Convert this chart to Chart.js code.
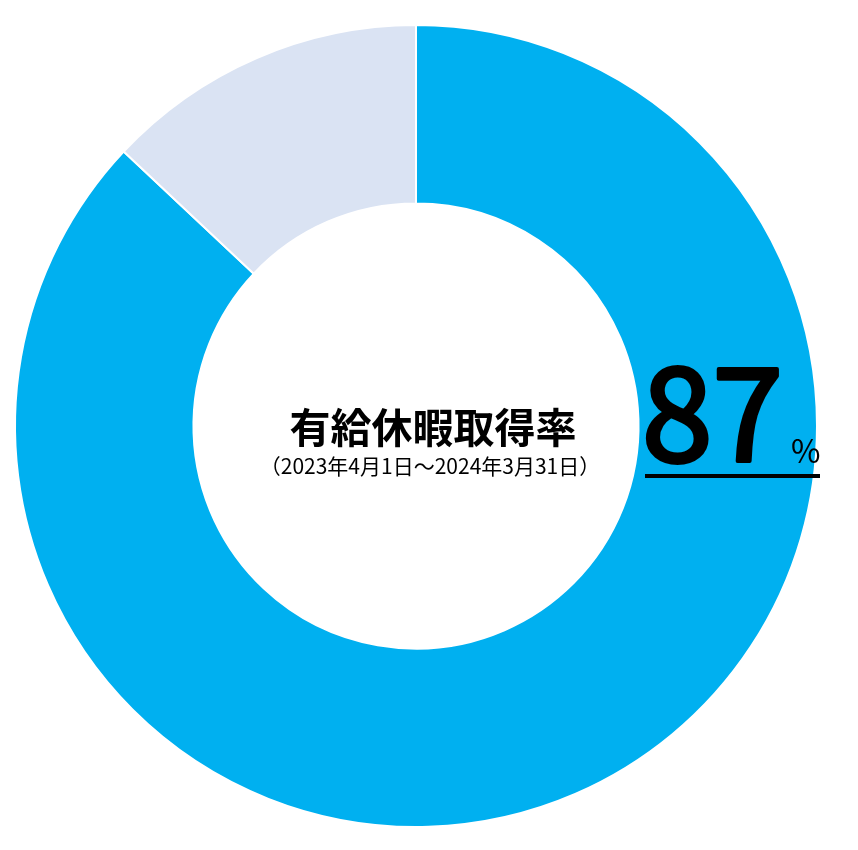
<!DOCTYPE html>
<html lang="ja">
<head>
<meta charset="utf-8">
<script src="https://cdn.jsdelivr.net/npm/chart.js@4"></script>
<style>
	body { margin: 0; background: #fff; }
	canvas { display: block; }
</style>
</head>
<body>
<canvas id="leaveChart" width="858" height="850"></canvas>
<script>
"use strict";

var labels = ["取得", "未取得"];
var values = [87, 13];
var colors = ["#00B0F0", "#DAE3F3"];
var title = "有給休暇取得率";
var period = "（2023年4月1日～2024年3月31日）";

// Draw the labels over the doughnut
var centerText = {
	id: "centerText",
	afterDraw: function (chart) {
		var ctx = chart.ctx;
		var arc = chart.getDatasetMeta(0).data[0];
		var cx = arc.x;
		var cy = arc.y;
		ctx.save();
		ctx.fillStyle = "#000";
		ctx.strokeStyle = "#000";
		ctx.textAlign = "center";
		ctx.textBaseline = "middle";
		ctx.font = "bold 41px 'Noto Sans CJK JP', sans-serif";
		ctx.fillText(title, cx + 17, cy + 1);
		ctx.font = "21px 'Noto Sans CJK JP', sans-serif";
		ctx.fillText(period, cx + 14, cy + 40);

		// big percentage (regular weight, thickened a little)
		var pct = String(values[0]);
		ctx.textAlign = "left";
		ctx.textBaseline = "alphabetic";
		ctx.font = "130px 'Noto Sans CJK JP', sans-serif";
		var m = ctx.measureText(pct);
		var inkW = m.actualBoundingBoxLeft + m.actualBoundingBoxRight;
		var inkH = m.actualBoundingBoxAscent;
		ctx.save();
		ctx.translate(cx + 231, cy + 35);
		ctx.scale(131 / inkW, 94 / inkH);
		ctx.lineWidth = 4;
		ctx.lineJoin = "round";
		ctx.fillText(pct, m.actualBoundingBoxLeft, 0);
		ctx.strokeText(pct, m.actualBoundingBoxLeft, 0);
		ctx.restore();
		ctx.font = "32px 'Noto Sans CJK JP', sans-serif";
		var pm = ctx.measureText("%");
		ctx.fillText("%", cx + 376 + pm.actualBoundingBoxLeft, cy + 37);

		// underline
		ctx.fillRect(cx + 229, cy + 48, 175, 4);
		ctx.restore();
	},
};

// Initialize Doughnut
function initLeaveChart() {
	var leaveChart = document.getElementById("leaveChart");
	new Chart(leaveChart, {
		type: "doughnut",
		data: {
			labels: labels,
			datasets: [
				{
					data: values,
					backgroundColor: colors,
					borderColor: "#fff",
					borderWidth: 2,
					hoverOffset: 0,
				},
			],
		},
		options: {
			responsive: false,
			animation: false,
			cutout: "55.5%",
			layout: {
				padding: { left: 14, top: 24, right: 40, bottom: 22 },
			},
			plugins: {
				legend: { display: false },
				tooltip: { enabled: false },
			},
		},
		plugins: [centerText],
	});
}

(function () {
	initLeaveChart();
})();
</script>
</body>
</html>
